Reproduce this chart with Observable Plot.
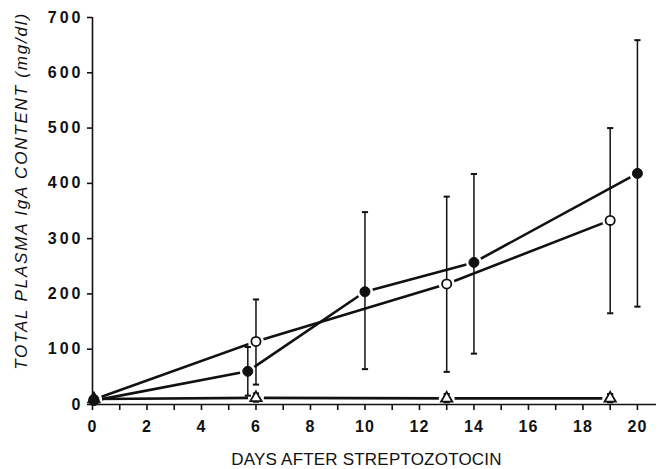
<!DOCTYPE html>
<html>
<head>
<meta charset="utf-8">
<script src="https://cdn.jsdelivr.net/npm/d3@7"></script>
<script src="https://cdn.jsdelivr.net/npm/@observablehq/plot@0.6"></script>
<style>
  html, body { margin: 0; padding: 0; background: #fff; }
  #chart { width: 661px; height: 469px; }
  g[aria-label="y-axis tick label"] text { letter-spacing: 3px; }
  g[aria-label="x-axis tick label"] text { letter-spacing: 1px; }
</style>
</head>
<body>
<div id="chart"></div>
<script>
// Filled circles series
const filledDays = [0.05, 5.7, 10, 14, 20];
const filledVals = [7, 60, 204, 257, 418];
const filledLo   = [null, 16, 64, 92, 177];
const filledHi   = [null, 104, 348, 417, 659];

// Open circles series
const openDays = [0.05, 6, 13, 19];
const openVals = [9, 114, 218, 333];
const openLo   = [null, 36, 59, 165];
const openHi   = [null, 190, 376, 500];

// Open triangles series
const triDays = [0.05, 6, 13, 19];
const triVals = [10, 12, 11, 11];
const triLo   = [null, 5, 4, 4];
const triHi   = [null, 20, 19, 19];

const xTicks = d3.range(0, 21, 1);
const yTicks = [0, 100, 200, 300, 400, 500, 600, 700];
const xTitle = "DAYS AFTER STREPTOZOTOCIN";
const yTitle = "TOTAL PLASMA IgA CONTENT (mg/dl)";

const mk = (days, vals, lo, hi) => days.map((d, i) => ({x: d, y: vals[i], lo: lo[i], hi: hi[i]}));
const filled = mk(filledDays, filledVals, filledLo, filledHi);
const open = mk(openDays, openVals, openLo, openHi);
const tri = mk(triDays, triVals, triLo, triHi);
const all = [...filled, ...open, ...tri];
const bars = all.filter(d => d.lo != null);

const capSymbol = {
  draw(ctx, size) {
    const w = Math.sqrt(size) / 2;
    ctx.moveTo(-w, 0);
    ctx.lineTo(w, 0);
  }
};

const font = "'Liberation Sans', Arial, sans-serif";

const chart = Plot.plot({
  width: 661,
  height: 469,
  marginLeft: 92,
  marginRight: 5,
  marginTop: 17,
  marginBottom: 65,
  style: {fontFamily: font, background: "#fff", color: "#111"},
  x: {domain: [0, 20.7]},
  y: {domain: [0, 700]},
  marks: [
    // connecting lines
    Plot.line(filled, {x: "x", y: "y", stroke: "#111", strokeWidth: 2.6}),
    Plot.line(open, {x: "x", y: "y", stroke: "#111", strokeWidth: 2.6}),
    Plot.line(tri, {x: "x", y: "y", stroke: "#111", strokeWidth: 2.6}),
    // white halos to break lines at markers
    Plot.dot(all, {x: "x", y: "y", r: 8, fill: "white", stroke: "none"}),
    // axis lines
    Plot.ruleY([0], {stroke: "#111", strokeWidth: 1.6}),
    Plot.ruleX([0], {y1: 0, y2: 700, stroke: "#111", strokeWidth: 1.6}),
    Plot.axisX({
      ticks: xTicks,
      tickSize: 6,
      tickPadding: 10,
      tickFormat: d => d % 2 === 0 ? d : "",
      stroke: "#111",
      strokeWidth: 1.6,
      fontSize: 16,
      fontWeight: "bold",
      label: null
    }),
    Plot.axisY({
      ticks: yTicks,
      tickSize: 5,
      tickPadding: 4,
      stroke: "#111",
      strokeWidth: 1.6,
      fontSize: 16,
      fontWeight: "bold",
      label: null
    }),
    // error bars
    Plot.ruleX(bars, {x: "x", y1: "lo", y2: "hi", stroke: "#111", strokeWidth: 1.5}),
    Plot.dot(bars, {x: "x", y: "hi", symbol: capSymbol, r: 3.5, stroke: "#111", strokeWidth: 2, fill: "none"}),
    Plot.dot(bars, {x: "x", y: "lo", symbol: capSymbol, r: 3.5, stroke: "#111", strokeWidth: 2, fill: "none"}),
    // markers
    Plot.dot(tri, {x: "x", y: "y", symbol: "triangle", r: 4.2, fill: "white", stroke: "#111", strokeWidth: 1.8}),
    Plot.dot(open, {x: "x", y: "y", r: 4.6, fill: "white", stroke: "#111", strokeWidth: 1.8}),
    Plot.dot(filled, {x: "x", y: "y", r: 5, fill: "#111", stroke: "#111", strokeWidth: 1}),
    // titles
    Plot.text([xTitle], {
      frameAnchor: "bottom", dx: -8, dy: 60, text: d => d,
      fontSize: 17, fill: "#111"
    }),
    Plot.text([yTitle], {
      frameAnchor: "left", textAnchor: "middle", dx: -71, dy: -20, rotate: -90, text: d => d,
      fontSize: 17, fontStyle: "italic", fill: "#111"
    })
  ]
});

// letter spacing for titles
d3.select(chart).selectAll("text").each(function () {
  const t = this.textContent;
  if (t === yTitle) this.style.letterSpacing = "1.8px";
  if (t === xTitle) this.style.letterSpacing = "0.2px";
});

document.getElementById("chart").appendChild(chart);
</script>
</body>
</html>
